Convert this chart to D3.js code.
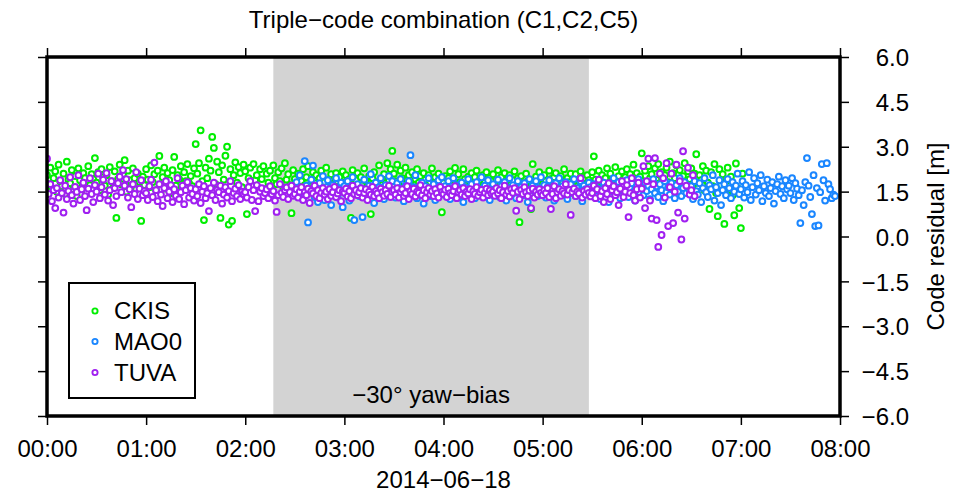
<!DOCTYPE html>
<html><head><meta charset="utf-8">
<script src="https://cdn.jsdelivr.net/npm/d3@7/dist/d3.min.js"></script>
<style>
body{margin:0;background:#fff;}
svg{display:block;font-family:"Liberation Sans",Arial,Helvetica,sans-serif;}
</style></head>
<body><svg id="chart" width="961" height="492"></svg>
<script>
// ---------- data ----------
const title = "Triple\u2212code combination (C1,C2,C5)";
const dateLabel = "2014\u221206\u221218";
const yLabel = "Code residual [m]";
const bandLabel = "\u221230\u00b0 yaw\u2212bias";
const xTickLabels = ["00:00","01:00","02:00","03:00","04:00","05:00","06:00","07:00","08:00"];
const yTickValues = [-6.0,-4.5,-3.0,-1.5,0.0,1.5,3.0,4.5,6.0];
const yawBiasWindow = ["02:17","05:28"];
const seriesNames = ["CKIS","MAO0","TUVA"];
const seriesColors = ["#00ee00","#1a86ff","#a020f0"];
const sampleMinutes = 1;
const seriesStart = ["00:00","02:30","00:00"];

const ckis = [
2.05,1.75,2.30,1.62,1.95,2.18,1.50,2.40,1.85,1.68,2.10,1.42,2.50,1.90,1.78,2.22,1.58,2.02,1.35,2.28,1.88,1.65,2.12,1.95,1.48,2.35,1.72,2.08,1.92,2.62,
1.80,2.15,1.55,2.25,1.98,1.70,2.05,1.40,2.32,1.85,1.62,2.18,0.62,1.92,2.40,1.75,2.08,2.55,1.50,2.20,1.88,1.68,2.28,1.95,1.58,2.10,1.82,0.52,2.00,1.72,
2.25,1.90,1.65,2.38,1.82,2.08,1.55,2.20,2.69,1.75,1.98,2.30,1.60,2.12,1.88,1.45,2.22,2.66,1.70,2.05,1.92,2.35,1.62,2.15,1.85,2.42,1.78,2.02,1.68,2.28,
3.09,2.10,2.45,3.55,1.85,0.55,2.30,1.95,2.60,2.20,3.33,2.96,1.75,2.50,2.15,0.62,2.38,1.90,2.70,3.00,0.40,2.25,0.52,2.05,2.48,1.80,2.32,2.12,1.65,2.40,
2.18,0.75,1.95,2.30,1.70,2.42,1.88,2.05,1.62,2.25,1.92,2.35,1.58,2.10,1.80,2.20,1.68,2.38,1.95,1.75,2.15,1.85,2.28,1.65,2.45,1.90,2.08,1.72,0.78,2.22,
1.92,1.68,2.10,1.55,1.85,2.25,1.72,1.98,2.35,1.62,1.88,2.15,1.78,2.05,1.58,1.95,2.20,1.70,1.82,2.30,1.65,1.90,2.08,1.75,1.52,2.12,1.85,1.98,1.68,2.18,
1.80,2.05,1.62,1.92,0.62,2.22,1.75,1.88,2.12,1.58,1.98,1.72,2.28,1.85,1.65,2.02,0.75,1.95,2.15,1.70,1.82,2.38,1.60,1.92,2.08,1.78,2.45,1.88,2.25,2.86,
2.10,1.85,2.40,1.72,2.20,1.95,1.62,2.30,1.88,2.05,1.75,2.15,1.58,1.92,2.25,1.80,2.02,1.68,2.12,1.90,1.55,2.05,1.82,2.28,1.70,1.98,1.65,2.10,1.88,0.81,
1.78,2.02,1.62,1.95,2.18,1.72,1.88,2.29,1.58,2.08,1.82,1.70,2.25,1.92,1.65,2.00,1.85,2.12,1.55,1.98,2.20,1.75,1.90,1.62,2.05,1.80,2.15,1.68,1.95,1.85,
2.08,1.72,1.90,2.22,1.65,1.98,1.80,2.12,1.58,1.92,2.05,1.75,1.88,2.18,1.62,1.95,0.48,2.02,1.78,1.70,2.10,1.85,1.60,0.92,2.42,1.82,2.00,1.68,2.15,1.90,
1.75,2.05,1.85,1.62,2.20,1.92,1.70,1.98,2.12,1.58,1.88,2.02,1.78,2.25,1.65,1.95,1.82,2.10,1.72,1.90,2.08,1.60,1.85,2.18,1.75,1.95,1.68,2.05,1.88,1.80,
2.15,2.68,1.90,1.72,2.20,1.85,2.05,1.62,1.95,2.28,1.78,2.10,1.88,1.68,2.32,1.92,2.02,1.75,2.18,1.58,1.98,2.25,1.82,2.08,1.70,2.40,1.88,2.12,1.65,2.00,
2.78,1.85,2.20,1.72,2.35,1.95,2.08,1.62,2.28,1.90,2.42,1.78,2.15,1.68,2.05,2.30,1.82,2.50,1.75,2.12,1.95,2.38,1.65,2.22,1.88,2.02,2.45,1.80,2.18,1.92,
2.28,1.75,2.10,2.75,1.62,2.05,1.88,2.35,1.55,2.20,1.80,0.92,2.15,1.68,2.42,1.45,0.68,2.25,1.72,2.08,0.42,1.85,2.30,1.58,2.00,1.38,0.71,2.44,1.62,0.95,
0.28,2.10];

const mao0 = [
1.55,1.82,1.38,2.05,1.62,1.25,2.52,1.70,0.47,1.48,1.90,2.37,1.32,1.58,1.15,1.78,1.45,2.02,1.22,1.65,1.88,1.40,1.05,1.72,1.52,1.95,1.30,1.60,1.80,0.98,
1.68,1.42,1.85,1.20,1.58,1.98,0.55,1.50,1.75,1.35,1.62,0.65,1.90,1.45,1.28,1.70,2.08,1.52,1.12,1.80,1.38,1.65,1.95,1.48,1.25,1.72,1.58,2.02,1.40,1.85,
1.55,1.30,1.78,1.62,1.92,1.45,1.18,1.70,1.52,1.85,2.72,1.38,1.65,2.05,1.28,1.58,1.42,1.80,1.10,1.68,1.50,1.95,1.35,1.62,1.75,1.22,1.55,1.88,1.45,1.98,
1.40,1.68,1.52,1.85,1.25,1.62,1.95,1.45,1.72,1.30,1.58,1.80,1.15,1.65,1.50,1.92,1.38,1.75,1.55,1.28,1.82,1.60,1.42,1.98,1.35,1.70,1.48,1.88,1.22,1.62,
1.75,1.45,1.58,1.90,1.32,1.68,1.50,1.82,1.20,1.62,1.95,1.40,1.72,1.55,1.28,1.85,1.48,1.65,1.38,1.78,1.58,1.15,1.92,1.45,1.70,1.52,1.85,1.35,1.62,1.98,
1.50,1.72,1.30,1.65,1.88,1.42,1.58,1.20,1.78,1.55,1.95,1.38,1.68,1.48,1.82,1.25,1.60,1.75,1.45,1.92,1.35,1.62,1.52,1.85,1.18,1.70,1.58,1.40,1.80,1.65,
1.48,1.75,1.35,1.62,1.90,1.25,1.58,1.80,1.45,1.68,1.15,1.72,1.52,1.95,1.38,1.65,1.82,1.28,1.55,1.70,1.42,1.88,1.32,1.60,1.78,1.50,1.20,1.68,1.92,1.45,
1.62,1.38,1.80,1.52,1.70,1.25,1.58,1.92,1.45,1.68,1.32,1.75,1.55,1.18,1.85,1.48,1.65,1.40,1.78,1.58,1.28,1.72,1.50,1.95,1.35,1.62,1.82,1.45,1.70,1.55,
1.68,1.25,1.85,1.52,1.40,1.78,1.15,1.62,1.95,1.48,1.32,1.72,1.58,2.05,1.20,1.65,1.45,1.88,1.05,1.55,1.75,1.38,1.92,1.62,1.28,1.82,1.50,1.70,2.10,1.42,
1.58,1.85,1.30,1.72,1.48,2.15,1.22,1.65,1.95,1.40,1.78,1.55,2.05,1.18,1.68,1.45,1.90,1.35,1.62,1.82,1.10,1.52,1.75,2.00,1.42,1.68,1.28,1.88,1.58,1.70,
1.45,1.95,1.22,1.78,1.60,1.38,0.45,1.55,1.05,1.82,2.62,1.70,1.32,0.75,2.05,0.35,1.62,0.37,1.48,2.42,1.88,1.20,2.45,1.75,1.58,1.28,1.40,1.35];

const tuva = [
2.60,1.42,1.75,1.18,1.55,0.95,1.62,1.30,1.88,1.45,0.80,1.70,1.25,1.52,1.98,1.38,1.10,1.66,1.49,2.05,1.22,1.58,1.80,1.35,0.88,1.60,1.95,1.42,1.15,1.72,
1.50,2.10,1.28,1.65,1.90,1.40,2.12,1.20,1.55,1.85,1.05,1.62,1.35,1.78,2.00,1.48,2.22,1.70,1.92,1.30,1.58,0.98,1.75,1.42,2.15,1.25,1.60,1.88,1.38,1.52,
1.45,1.22,1.68,1.90,1.32,2.47,1.55,1.18,1.75,1.40,1.02,1.62,1.85,1.28,1.50,1.72,1.15,1.58,1.36,1.95,1.25,1.48,1.70,1.08,1.55,1.82,1.30,1.62,1.42,1.20,
1.58,1.35,1.75,1.12,1.50,1.68,1.28,1.45,0.85,1.62,1.38,1.80,1.22,1.55,1.48,1.70,1.10,1.40,1.65,1.30,1.52,1.85,1.18,1.45,1.60,1.35,1.72,1.25,1.50,1.42,
1.48,1.30,1.65,1.85,1.22,1.55,0.85,1.72,1.18,1.50,1.62,1.35,1.45,1.58,1.28,1.68,1.42,1.52,1.20,0.82,1.38,1.75,1.46,1.32,1.55,1.64,1.25,1.48,1.70,1.36,
1.42,1.58,1.30,1.50,1.65,1.22,1.48,1.38,1.60,1.12,1.52,1.44,1.70,1.35,1.55,1.28,1.46,1.62,1.40,1.50,1.25,1.58,1.36,1.48,1.66,1.32,1.44,1.55,1.18,1.50,
1.46,1.60,1.34,1.52,1.28,1.70,1.42,1.55,1.38,1.48,1.62,1.30,1.45,1.58,1.22,1.50,1.40,1.66,1.35,1.52,1.44,1.28,1.60,1.48,1.36,1.55,1.42,1.70,1.32,1.50,
1.55,1.40,1.62,1.30,1.48,1.58,1.36,1.45,1.68,1.25,1.52,1.42,1.60,1.34,1.50,1.46,1.72,1.38,1.55,1.28,1.48,1.62,1.40,1.52,1.35,1.58,1.44,1.30,1.66,1.48,
1.42,1.56,1.32,1.60,1.45,1.38,1.52,1.68,1.28,1.48,1.55,1.40,1.62,1.35,1.50,1.44,1.58,1.25,1.52,1.42,1.65,1.36,1.48,1.56,1.30,1.46,1.60,1.38,1.54,1.44,
1.50,1.36,1.62,1.44,1.55,1.28,1.48,1.70,1.40,1.52,1.34,1.58,1.46,1.62,0.86,1.50,1.25,1.56,1.42,1.65,1.48,1.35,1.54,0.95,1.60,1.30,1.50,1.40,1.58,1.46,
1.38,1.55,1.45,1.62,1.32,0.92,1.42,1.68,1.28,1.48,1.58,1.36,1.52,1.44,1.75,1.40,1.55,0.72,1.48,1.60,1.35,1.50,1.44,1.95,1.30,1.52,1.40,1.58,1.46,1.34,
1.45,1.70,1.28,1.58,1.90,1.35,1.52,1.15,1.62,1.42,1.78,1.25,1.55,1.68,1.38,1.48,1.05,1.60,1.85,1.32,1.50,1.72,0.65,1.45,1.95,1.38,1.20,1.58,1.80,1.30,
1.60,2.35,0.95,1.85,2.60,1.20,0.60,1.75,2.62,0.55,-0.35,2.10,0.05,1.95,1.30,2.45,0.35,1.65,2.10,0.45,1.50,2.40,0.80,1.85,-0.10,2.85,0.60,1.70,2.30,1.40,
1.55,2.05,1.35];

const seriesValues = [ckis, mao0, tuva];

// ---------- layout ----------
const W = 961, H = 492;
const m = {left:47, right:840, top:57, bottom:416};
const FONT = 24;
const svg = d3.select("#chart");

const day = (hm) => { const [h,mi] = hm.split(":").map(Number); return new Date(Date.UTC(2014,5,18,h,mi)); };
const x = d3.scaleUtc().domain([day(xTickLabels[0]), day(xTickLabels[xTickLabels.length-1])]).range([m.left, m.right]);
const y = d3.scaleLinear().domain([yTickValues[0], yTickValues[yTickValues.length-1]]).range([m.bottom, m.top]);
const xTicks = xTickLabels.map(day);

// yaw-bias band
svg.append("rect")
  .attr("x", x(day(yawBiasWindow[0]))).attr("y", m.top)
  .attr("width", x(day(yawBiasWindow[1])) - x(day(yawBiasWindow[0])))
  .attr("height", m.bottom - m.top).attr("fill", "#d3d3d3");
svg.append("text")
  .attr("x", (x(day(yawBiasWindow[0])) + x(day(yawBiasWindow[1]))) / 2)
  .attr("y", 403).attr("text-anchor","middle").attr("font-size",FONT).text(bandLabel);

// points
svg.append("clipPath").attr("id","plotclip").append("rect")
  .attr("x", m.left).attr("y", m.top).attr("width", m.right-m.left).attr("height", m.bottom-m.top);
const pg = svg.append("g").attr("clip-path","url(#plotclip)");
const R = 2.9, SW = 2;
seriesNames.forEach((name, si) => {
  const t0 = day(seriesStart[si]);
  const pts = seriesValues[si].map((v,i) => ({t: new Date(t0.getTime() + i*sampleMinutes*60000), v}));
  pg.append("g").selectAll("circle").data(pts).join("circle")
    .attr("cx", d => x(d.t)).attr("cy", d => y(d.v)).attr("r", R)
    .attr("fill","#fff").attr("stroke", seriesColors[si]).attr("stroke-width", SW);
});

// axes
const tickLen = 9;
const styleAxis = g => { g.select(".domain").remove(); g.selectAll(".tick line").attr("stroke","#000").attr("stroke-width",1.5); };
svg.append("g").attr("transform",`translate(0,${m.bottom})`)
  .call(d3.axisBottom(x).tickValues(xTicks).tickFormat(d3.utcFormat("%H:%M")).tickSize(tickLen))
  .call(styleAxis)
  .call(g => g.selectAll("text").attr("y", 41).attr("dy", null).attr("font-size",FONT).attr("font-family",null).attr("fill","#000"));
svg.append("g").attr("transform",`translate(0,${m.top})`)
  .call(d3.axisTop(x).tickValues(xTicks).tickFormat("").tickSize(tickLen)).call(styleAxis);
svg.append("g").attr("transform",`translate(${m.left},0)`)
  .call(d3.axisLeft(y).tickValues(yTickValues).tickFormat("").tickSize(tickLen)).call(styleAxis);
svg.append("g").attr("transform",`translate(${m.right},0)`)
  .call(d3.axisRight(y).tickValues(yTickValues).tickFormat(d3.format(".1f")).tickSize(tickLen))
  .call(styleAxis)
  .call(g => g.selectAll("text").attr("x", 69).attr("dy","0.36em").attr("text-anchor","end").attr("font-size",FONT).attr("font-family",null).attr("fill","#000"));

// frame
svg.append("rect").attr("x",m.left).attr("y",m.top).attr("width",m.right-m.left).attr("height",m.bottom-m.top)
  .attr("fill","none").attr("stroke","#000").attr("stroke-width",3.5);

// titles
svg.append("text").attr("x",(m.left+m.right)/2).attr("y",28).attr("text-anchor","middle").attr("font-size",FONT).text(title);
svg.append("text").attr("x",(m.left+m.right)/2).attr("y",488).attr("text-anchor","middle").attr("font-size",FONT).text(dateLabel);
svg.append("text").attr("transform",`translate(944,${(m.top+m.bottom)/2}) rotate(-90)`).attr("text-anchor","middle").attr("font-size",FONT).text(yLabel);

// legend
const lg = svg.append("g");
lg.append("rect").attr("x",69).attr("y",283).attr("width",126).attr("height",115)
  .attr("fill","#fff").attr("stroke","#000").attr("stroke-width",2);
const legendY = [311, 341.5, 372.5];
seriesNames.forEach((name, i) => {
  lg.append("circle").attr("cx",95).attr("cy",legendY[i]).attr("r",2.6)
    .attr("fill","#fff").attr("stroke",seriesColors[i]).attr("stroke-width",1.9);
  lg.append("text").attr("x",114).attr("y",legendY[i]+8).attr("font-size",FONT).text(name);
});
</script>
</body></html>
